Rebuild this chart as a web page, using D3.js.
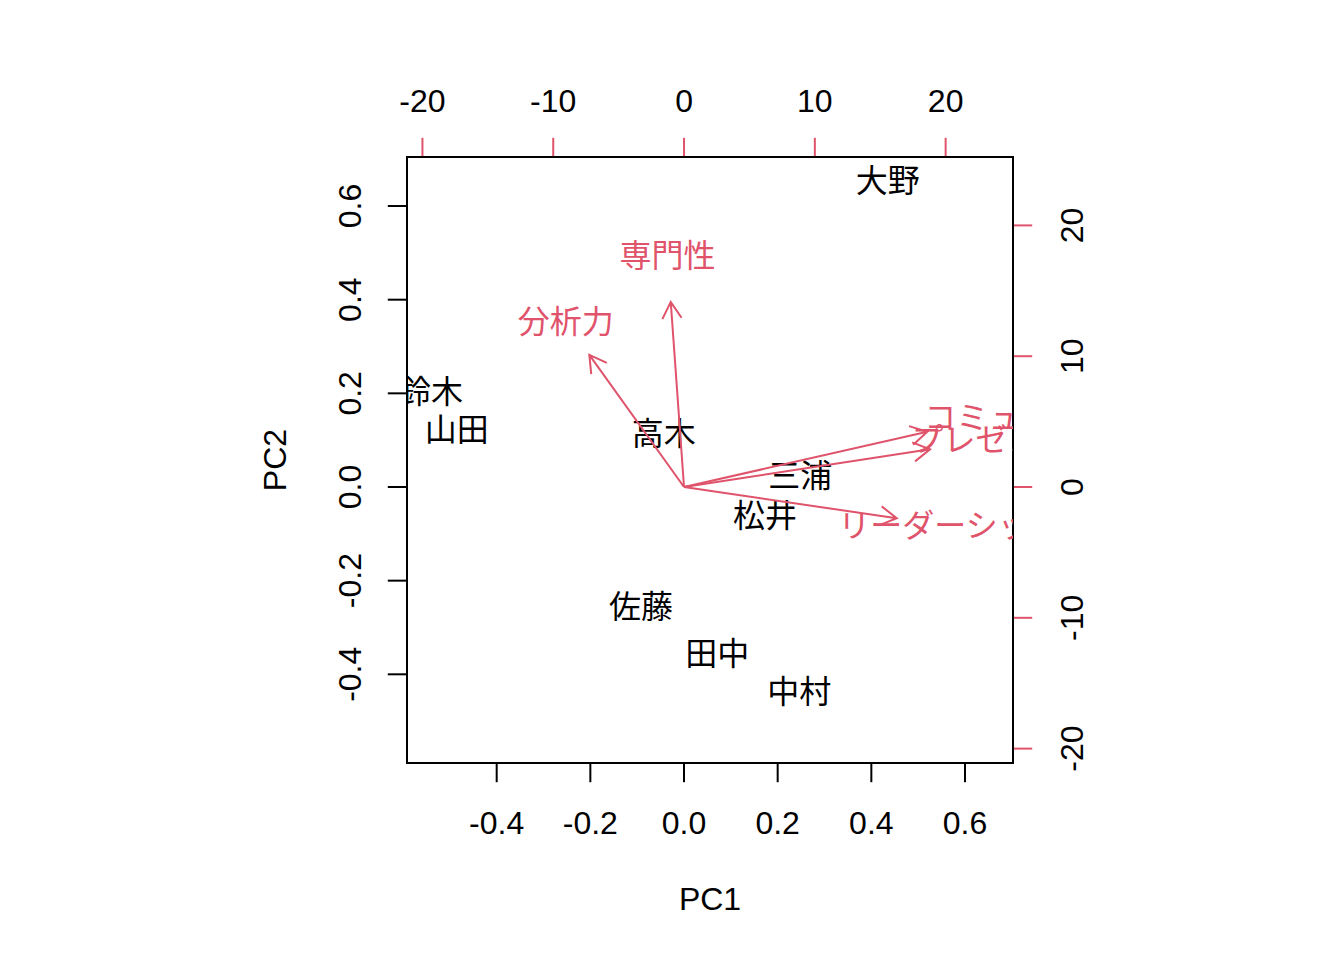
<!DOCTYPE html>
<html><head><meta charset="utf-8">
<script src="https://cdn.jsdelivr.net/npm/d3@7"></script>
<style>
html,body{margin:0;padding:0;background:#fff;}
text{font-family:"Liberation Sans",Arial,"Noto Sans CJK JP",sans-serif;}
.cjk{font-family:"Liberation Sans","Noto Sans CJK JP",sans-serif;}
</style></head>
<body>
<script>
// ---- data ----
const obsNames = ["大野","鈴木","山田","高木","三浦","松井","佐藤","田中","中村"];
const obsPC1 = [0.435,-0.540,-0.485,-0.043,0.248,0.173,-0.092,0.071,0.246];
const obsPC2 = [0.654,0.202,0.121,0.113,0.023,-0.063,-0.257,-0.356,-0.437];
const varNames = ["専門性","分析力","コミュ力","プレゼン力","リーダーシップ"];
const varPC1 = [-1.27,-9.05,23.25,23.51,20.33];
const varPC2 = [17.69,12.62,5.28,3.60,-2.99];
const scoreTicks = [-0.4,-0.2,0.0,0.2,0.4,0.6];
const scoreTickLabels = ["-0.4","-0.2","0.0","0.2","0.4","0.6"];
const loadTicks = [-20,-10,0,10,20];
const loadTickLabels = ["-20","-10","0","10","20"];
const scoreXDomain = [-0.5915,0.7025], scoreYDomain = [-0.5894,0.7047];
const loadXDomain = [-21.18,25.15], loadYDomain = [-21.10,25.23];

const RED = "#DF536B";
const W=1344,H=960, L=407,R=1013,T=157,B=763;
const svg = d3.select("body").append("svg").attr("width",W).attr("height",H);

const x = d3.scaleLinear().domain(scoreXDomain).range([L,R]);
const y = d3.scaleLinear().domain(scoreYDomain).range([B,T]);
const x2 = d3.scaleLinear().domain(loadXDomain).range([L,R]);
const y2 = d3.scaleLinear().domain(loadYDomain).range([B,T]);

svg.append("defs").append("clipPath").attr("id","plotclip")
  .append("rect").attr("x",L).attr("y",T).attr("width",R-L).attr("height",B-T);

const fs = 32, tick = 19.2, sw = 2;

// observation labels
const gObs = svg.append("g").attr("clip-path","url(#plotclip)");
gObs.selectAll("text").data(obsNames).join("text")
  .attr("class","cjk")
  .attr("x",(d,i)=>x(obsPC1[i])).attr("y",(d,i)=>y(obsPC2[i]))
  .attr("text-anchor","middle").attr("dominant-baseline","central")
  .attr("font-size",fs).attr("fill","#000").text(d=>d);

// bottom axis
const gB = svg.append("g");
gB.append("line").attr("x1",x(scoreTicks[0])).attr("x2",x(scoreTicks[scoreTicks.length-1]))
  .attr("y1",B).attr("y2",B).attr("stroke","#000").attr("stroke-width",sw);
scoreTicks.forEach((t,i)=>{
  gB.append("line").attr("x1",x(t)).attr("x2",x(t)).attr("y1",B).attr("y2",B+tick)
    .attr("stroke","#000").attr("stroke-width",sw);
  gB.append("text").attr("x",x(t)).attr("y",822.5).attr("text-anchor","middle")
    .attr("dominant-baseline","central").attr("font-size",fs).text(scoreTickLabels[i]);
});
// left axis
const gLft = svg.append("g");
gLft.append("line").attr("y1",y(scoreTicks[0])).attr("y2",y(scoreTicks[scoreTicks.length-1]))
  .attr("x1",L).attr("x2",L).attr("stroke","#000").attr("stroke-width",sw);
scoreTicks.forEach((t,i)=>{
  gLft.append("line").attr("y1",y(t)).attr("y2",y(t)).attr("x1",L).attr("x2",L-tick)
    .attr("stroke","#000").attr("stroke-width",sw);
  gLft.append("text").attr("transform",`translate(350,${y(t)}) rotate(-90)`).attr("text-anchor","middle")
    .attr("dominant-baseline","central").attr("font-size",fs).text(scoreTickLabels[i]);
});

// top axis (red)
const gTop = svg.append("g");
gTop.append("line").attr("x1",x2(loadTicks[0])).attr("x2",x2(loadTicks[loadTicks.length-1]))
  .attr("y1",T).attr("y2",T).attr("stroke",RED).attr("stroke-width",sw);
loadTicks.forEach((t,i)=>{
  gTop.append("line").attr("x1",x2(t)).attr("x2",x2(t)).attr("y1",T).attr("y2",T-tick)
    .attr("stroke",RED).attr("stroke-width",sw);
  gTop.append("text").attr("x",x2(t)).attr("y",100.8).attr("text-anchor","middle")
    .attr("dominant-baseline","central").attr("font-size",fs).text(loadTickLabels[i]);
});
// right axis (red)
const gRt = svg.append("g");
gRt.append("line").attr("y1",y2(loadTicks[0])).attr("y2",y2(loadTicks[loadTicks.length-1]))
  .attr("x1",R).attr("x2",R).attr("stroke",RED).attr("stroke-width",sw);
loadTicks.forEach((t,i)=>{
  gRt.append("line").attr("y1",y2(t)).attr("y2",y2(t)).attr("x1",R).attr("x2",R+tick)
    .attr("stroke",RED).attr("stroke-width",sw);
  gRt.append("text").attr("transform",`translate(1072,${y2(t)}) rotate(-90)`).attr("text-anchor","middle")
    .attr("dominant-baseline","central").attr("font-size",fs).text(loadTickLabels[i]);
});

// box
svg.append("rect").attr("x",L).attr("y",T).attr("width",R-L).attr("height",B-T)
  .attr("fill","none").attr("stroke","#000").attr("stroke-width",sw);

// arrows
const gV = svg.append("g").attr("clip-path","url(#plotclip)");
const ox = x2(0), oy = y2(0), headLen = 19.2, ang = Math.PI/6;
varNames.forEach((n,i)=>{
  const tx = x2(0.8*varPC1[i]), ty = y2(0.8*varPC2[i]);
  const a = Math.atan2(ty-oy, tx-ox);
  const path = d3.path();
  path.moveTo(ox,oy); path.lineTo(tx,ty);
  path.moveTo(tx-headLen*Math.cos(a-ang), ty-headLen*Math.sin(a-ang));
  path.lineTo(tx,ty);
  path.lineTo(tx-headLen*Math.cos(a+ang), ty-headLen*Math.sin(a+ang));
  gV.append("path").attr("d",path.toString()).attr("fill","none")
    .attr("stroke",RED).attr("stroke-width",sw).attr("stroke-linecap","butt");
});
gV.selectAll("text").data(varNames).join("text")
  .attr("class","cjk")
  .attr("x",(d,i)=>x2(varPC1[i])).attr("y",(d,i)=>y2(varPC2[i]))
  .attr("text-anchor","middle").attr("dominant-baseline","central")
  .attr("font-size",fs).attr("fill",RED).text(d=>d);

// axis titles
svg.append("text").attr("x",(L+R)/2).attr("y",899).attr("text-anchor","middle")
  .attr("dominant-baseline","central").attr("font-size",fs).text("PC1");
svg.append("text").attr("transform",`translate(275,${(T+B)/2}) rotate(-90)`).attr("text-anchor","middle")
  .attr("dominant-baseline","central").attr("font-size",fs).text("PC2");
</script>
</body></html>
